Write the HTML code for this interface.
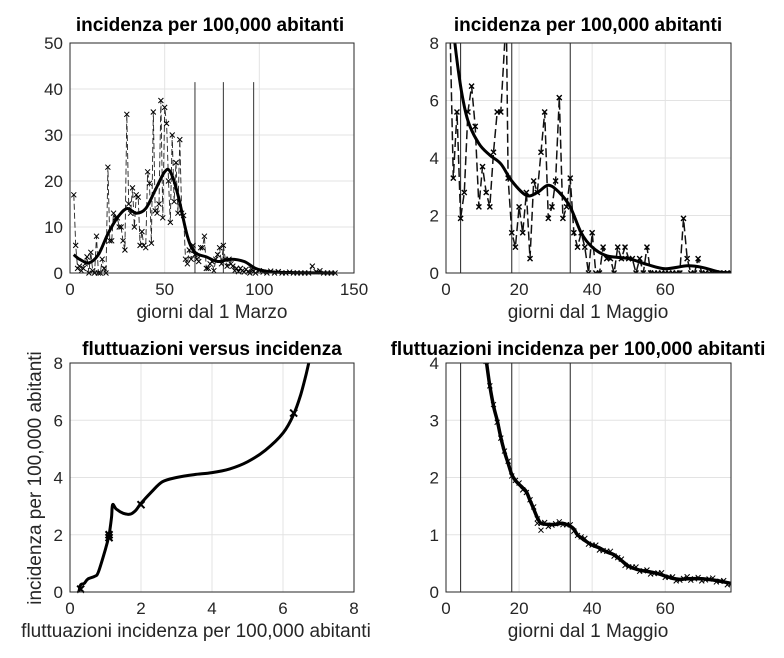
<!DOCTYPE html>
<html><head><meta charset="utf-8"><style>
body{margin:0;background:#fff;}
svg{display:block;font-family:"Liberation Sans",Arial,sans-serif;}
</style></head><body>
<svg id="s" width="784" height="658" viewBox="0 0 784 658" xmlns="http://www.w3.org/2000/svg"></svg>
<script>
const S=document.getElementById('s');let h='';
function ax(L,R,T,B,xt,xmin,xmax,yt,ymin,ymax){
  const X=v=>L+(v-xmin)/(xmax-xmin)*(R-L), Y=v=>B-(v-ymin)/(ymax-ymin)*(B-T);
  for(const t of xt){h+=`<line x1="${X(t)}" y1="${T}" x2="${X(t)}" y2="${B}" stroke="#e3e3e3"/>`;
    h+=`<text x="${X(t)}" y="${B+22}" font-size="17" text-anchor="middle" fill="#262626">${t}</text>`;}
  for(const t of yt){h+=`<line x1="${L}" y1="${Y(t)}" x2="${R}" y2="${Y(t)}" stroke="#e3e3e3"/>`;
    h+=`<text x="${L-7}" y="${Y(t)+6}" font-size="17" text-anchor="end" fill="#262626">${t}</text>`;}
  return [X,Y];
}
function box(L,R,T,B){h+=`<rect x="${L}" y="${T}" width="${R-L}" height="${B-T}" fill="none" stroke="#262626" stroke-width="1"/>`;}
function line(X,Y,pts,attr){h+=`<polyline fill="none" points="${pts.map(p=>X(p[0]).toFixed(1)+','+Y(p[1]).toFixed(1)).join(' ')}" ${attr}/>`;}
function marks(X,Y,pts,s,w){for(const p of pts){const x=X(p[0]),y=Y(p[1]);h+=`<path d="M${x-s},${y-s}L${x+s},${y+s}M${x-s},${y+s}L${x+s},${y-s}" stroke="#000" stroke-width="${w}"/>`;}}
function smooth(X,Y,pts,w){let d='M'+X(pts[0][0])+','+Y(pts[0][1]);
  for(let i=0;i<pts.length-1;i++){const p0=pts[Math.max(0,i-1)],p1=pts[i],p2=pts[i+1],p3=pts[Math.min(pts.length-1,i+2)];
   const c1=[X(p1[0])+(X(p2[0])-X(p0[0]))/6,Y(p1[1])+(Y(p2[1])-Y(p0[1]))/6],c2=[X(p2[0])-(X(p3[0])-X(p1[0]))/6,Y(p2[1])-(Y(p3[1])-Y(p1[1]))/6];
   d+=`C${c1[0].toFixed(1)},${c1[1].toFixed(1)} ${c2[0].toFixed(1)},${c2[1].toFixed(1)} ${X(p2[0]).toFixed(1)},${Y(p2[1]).toFixed(1)}`;}
  h+=`<path d="${d}" fill="none" stroke="#000" stroke-width="${w}" stroke-linejoin="round"/>`;}
function txt(x,y,s,b,extra){h+=`<text x="${x}" y="${y}" font-size="${b?19:19}" ${b?'font-weight="bold" fill="#000"':'fill="#262626"'} text-anchor="middle" ${extra||''}>${s}</text>`;}

// ---- Panel 1
let [X,Y]=ax(70,354,43,273,[0,50,100,150],0,150,[0,10,20,30,40,50],0,50);
const d1=[[2,17],[3,6],[4,1],[5,1.5],[6,0.5],[7,1],[8,2],[9,3.5],[10,0],[11,4.5],[12,0.5],[13,0],[14,8],[15,0],[16,0],[17,3],[18,1],[19,0],[20,23],[21,7],[22,7],[23,13],[24,12],[25,12],[26,10],[27,10],[28,7],[29,5],[30,34.5],[31,15],[32,13],[33,18.5],[34,10],[35,17],[36,16.5],[37,6],[38,9],[39,6],[40,5.5],[41,22],[42,19.5],[43,6.5],[44,35],[45,13.5],[46,13],[47,15],[48,37.5],[49,12],[50,36],[51,32.5],[52,20],[53,11],[54,30],[55,15.5],[56,24],[57,13],[58,29],[59,13],[60,12.5],[61,3],[62,2],[63,5],[64,3],[65,6],[66,4],[67,3],[68,2.5],[69,5.5],[70,5.5],[71,8],[72,1],[73,1],[74,2],[75,2.5],[76,0.5],[77,3],[78,4],[79,5.5],[80,2],[81,6],[82,3],[83,1.5],[84,3],[85,2],[86,1.5],[87,0.5],[88,1],[89,0.3],[90,1],[91,0.5],[92,0.2],[93,0.8],[94,0.3],[95,0],[96,0.8],[97,0.4],[98,0],[100,0.5],[102,0.2],[104,0],[106,0.4],[108,0],[110,0.3],[112,0],[114,0],[116,0.2],[118,0],[120,0],[122,0],[124,0],[126,0],[128,1.5],[130,0.3],[132,0.5],[134,0],[136,0],[138,0],[140,0]];
for(const v of [66,81,97])h+=`<line x1="${X(v)}" y1="${Y(0)}" x2="${X(v)}" y2="${Y(41.5)}" stroke="#333" stroke-width="1"/>`;
line(X,Y,d1,'stroke="#222" stroke-width="0.9" stroke-dasharray="6,3"');
marks(X,Y,d1,2.5,1);
smooth(X,Y,[[2,4],[5,3],[10,2.2],[15,4],[20,8.5],[25,12],[30,14],[35,13],[40,14],[45,18],[50,22],[53,22],[57,17],[62,8],[66,4.5],[72,3.5],[78,2.5],[85,3],[92,2.5],[98,1],[105,0.3],[115,0.1],[140,0]],3);
box(70,354,43,273);
txt(210,31,'incidenza per 100,000 abitanti',1);
txt(212,318,'giorni dal 1 Marzo',0);

// ---- Panel 2
[X,Y]=ax(446,731,43,273,[0,20,40,60],0,78,[0,2,4,6,8],0,8);
const d2=[[1,9],[2,3.3],[3,5.6],[4,1.9],[5,2.8],[6,5.6],[7,6.5],[8,5.1],[9,2.3],[10,3.7],[11,2.8],[12,2.3],[13,4.2],[14,5.6],[15,5.6],[16.5,9],[17,3.3],[18,1.4],[19,0.9],[20,2.3],[21,1.4],[22,2.8],[23,0.5],[24,3.2],[25,2.8],[26,4.2],[27,5.6],[28,1.9],[29,2.3],[30,3.2],[31,6.1],[32,1.9],[33,2.3],[34,3.3],[35,1.4],[36,0.9],[37,1.4],[38,0.9],[39,0],[40,1.4],[41,0],[42,0],[43,0.9],[44,0.5],[45,0.5],[46,0],[47,0.9],[48,0.5],[49,0.9],[50,0.5],[51,0.5],[52,0],[53,0.5],[54,0],[55,0.9],[56,0],[57,0],[58,0],[59,0],[60,0],[61,0],[62,0],[63,0],[64,0],[65,1.9],[66,0.5],[67,0],[68,0],[69,0.5],[70,0],[71,0],[72,0],[73,0],[74,0],[75,0],[76,0],[77,0],[78,0]];
for(const v of [4,18,34])h+=`<line x1="${X(v)}" y1="${Y(0)}" x2="${X(v)}" y2="${Y(8)}" stroke="#222" stroke-width="1"/>`;
h+=`<svg x="446" y="43" width="285" height="230" overflow="hidden"><g transform="translate(-446,-43)">`;
line(X,Y,d2,'stroke="#111" stroke-width="1.5" stroke-dasharray="9,4"');
marks(X,Y,d2.filter(p=>p[1]<8.2),2.5,1.4);
smooth(X,Y,[[1.5,9.5],[2,8.5],[4,6.5],[6,5.3],[9,4.5],[12,4.1],[15,3.8],[18,3.2],[22,2.7],[25,2.8],[28,3.05],[31,2.8],[34,2.3],[37,1.4],[40,0.9],[44,0.6],[50,0.5],[55,0.3],[60,0.15],[66,0.25],[70,0.2],[75,0.03],[78,0.02]],3);
h+=`</g></svg>`;
box(446,731,43,273);
txt(588,31,'incidenza per 100,000 abitanti',1);
txt(588,318,'giorni dal 1 Maggio',0);

// ---- Panel 3
[X,Y]=ax(70,354,363,592,[0,2,4,6,8],0,8,[0,2,4,6,8],0,8);
h+=`<svg x="70" y="363" width="284" height="229" overflow="hidden"><g transform="translate(-70,-363)">`;
smooth(X,Y,[[0.25,0],[0.3,0.25],[0.4,0.3],[0.5,0.45],[0.7,0.55],[0.8,0.7],[1,1.5],[1.1,2],[1.17,2.6],[1.2,3.05],[1.3,2.9],[1.5,2.75],[1.7,2.72],[1.85,2.85],[2,3.1],[2.3,3.5],[2.6,3.85],[3,4.0],[3.5,4.1],[4,4.17],[4.5,4.3],[5,4.55],[5.5,4.95],[6,5.55],[6.3,6.2],[6.5,6.9],[6.65,7.6],[6.78,8.3]],3);
h+=`</g></svg>`;
marks(X,Y,[[1.1,2],[1.1,1.9],[2,3.05],[6.3,6.25],[0.3,0.1]],3.5,2);
box(70,354,363,592);
txt(212,355,'fluttuazioni versus incidenza',1);
txt(196,637,'fluttuazioni incidenza per 100,000 abitanti',0);
txt(0,0,'incidenza per 100,000 abitanti',0,'transform="translate(41,478) rotate(-90)"');

// ---- Panel 4
[X,Y]=ax(446,731,363,592,[0,20,40,60],0,78,[0,1,2,3,4],0,4);
for(const v of [4,18,34])h+=`<line x1="${X(v)}" y1="${Y(0)}" x2="${X(v)}" y2="${Y(4)}" stroke="#222" stroke-width="1"/>`;
const c4=[[11,4.05],[12,3.6],[13,3.25],[14,3.0],[15,2.7],[16,2.45],[17,2.25],[18,2.05],[19,1.95],[20,1.88],[21,1.82],[22,1.75],[23,1.6],[24,1.45],[25,1.3],[26,1.2],[28,1.18],[30,1.18],[32,1.2],[34,1.15],[35,1.1],[36,1.0],[38,0.9],[40,0.82],[42,0.77],[44,0.7],[46,0.65],[48,0.55],[50,0.45],[52,0.4],[54,0.37],[56,0.35],[58,0.32],[60,0.28],[62,0.24],[64,0.22],[66,0.23],[70,0.23],[74,0.2],[78,0.15]];
h+=`<svg x="446" y="363" width="285" height="229" overflow="hidden"><g transform="translate(-446,-363)">`;
smooth(X,Y,c4,3.5);
const m4=[];for(let d=11;d<=78;d++){let i=0;while(i<c4.length-1&&c4[i+1][0]<d)i++;const a=c4[i],b=c4[Math.min(i+1,c4.length-1)];const t=b[0]==a[0]?0:(d-a[0])/(b[0]-a[0]);m4.push([d,a[1]+(b[1]-a[1])*t+(((d*37)%7)-3)*0.012]);}
m4.push([26,1.08],[25,1.2]);
marks(X,Y,m4,2.5,1);
h+=`</g></svg>`;
box(446,731,363,592);
txt(578,355,'fluttuazioni incidenza per 100,000 abitanti',1);
txt(588,637,'giorni dal 1 Maggio',0);
S.innerHTML=h;
</script>
</body></html>
